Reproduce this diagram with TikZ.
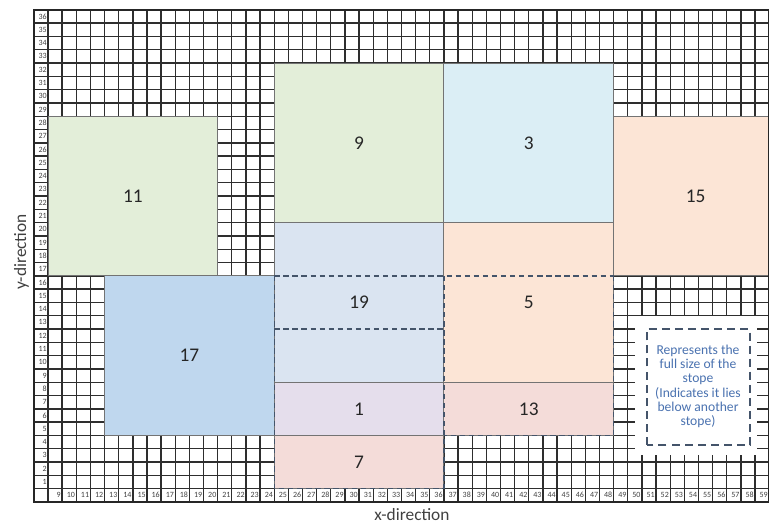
\documentclass[tikz,border=0pt]{standalone}
\usepackage{fontspec}
\setmainfont{Carlito}
\usepackage{tikz}
\definecolor{gridline}{HTML}{2E2E2E}
\definecolor{sgreen}{HTML}{E3EED9}
\definecolor{scyan}{HTML}{DBEEF5}
\definecolor{sorange}{HTML}{FCE5D6}
\definecolor{sblue}{HTML}{BFD7EE}
\definecolor{sgrey}{HTML}{DAE4F1}
\definecolor{spurple}{HTML}{E5DEEC}
\definecolor{spink}{HTML}{F4DCD9}
\definecolor{sdash}{HTML}{44546A}
\definecolor{legtext}{HTML}{4A72B0}
\tikzset{
  stope/.style={draw=black!55, line width=0.7pt},
  stopenum/.style={font=\fontsize{14.5}{17}\selectfont, text=black!85},
  hidden/.style={draw=sdash, line width=1.1pt, dash pattern=on 4pt off 2.8pt},
  gridlab/.style={font=\fontsize{6}{7}\selectfont, text=black!75, inner sep=0.5pt},
  axislab/.style={font=\fontsize{13}{15}\selectfont, text=black!75},
}

\begin{document}
\begin{tikzpicture}[x=10.605pt, y=9.975pt]
\useasboundingbox (4.605,-2.654) rectangle (58.99,36.74);
\foreach \c in {7,...,59} \draw[gridline, line width=1pt] (\c,-1) -- (\c,36);
\foreach \r in {-1,...,36} \draw[gridline, line width=1pt] (7,\r) -- (59,\r);
\foreach \c in {9,...,59} \node[gridlab, anchor=east] (xl\c) at (\c-0.03,-0.5) {\c};
\foreach \r in {1,...,36} \node[gridlab, anchor=east] (yl\r) at (7.97,\r-0.5) {\r};
\filldraw[stope, fill=sgreen] (8,16) rectangle (20,28);
\filldraw[stope, fill=sgreen] (24,20) rectangle (36,32);
\filldraw[stope, fill=scyan] (36,20) rectangle (48,32);
\filldraw[stope, fill=sorange] (48,16) rectangle (59.5,28);
\filldraw[stope, fill=sblue] (12,4) rectangle (24,16);
\filldraw[stope, fill=sgrey] (24,8) rectangle (36,20);
\filldraw[stope, fill=sorange] (36,8) rectangle (48,20);
\filldraw[stope, fill=spurple] (24,4) rectangle (36,8);
\filldraw[stope, fill=spink] (36,4) rectangle (48,8);
\filldraw[stope, fill=spink] (24,0) rectangle (36,4);
\draw[black!85, line width=1.6pt] (7,-1) rectangle (59,36);
\draw[hidden] (24,16) -- (48,16);
\draw[hidden] (24,12) -- (36,12);
\draw[hidden] (24,16) -- (24,0) -- (36,0);
\draw[hidden] (36,16) -- (36,0);
\draw[hidden] (48,16) -- (48,4) -- (36,4);
\node[stopenum] (s11) at (14,22) {11};
\node[stopenum] (s9) at (30,26) {9};
\node[stopenum] (s3) at (42,26) {3};
\node[stopenum] (s15) at (53.8,22) {15};
\node[stopenum] (s17) at (18,10) {17};
\node[stopenum] (s19) at (30,14) {19};
\node[stopenum] (s5) at (42,14) {5};
\node[stopenum] (s1) at (30,6) {1};
\node[stopenum] (s13) at (42,6) {13};
\node[stopenum] (s7) at (30,2) {7};
\fill[white] (49.5,2.5) rectangle (58.15,12.95);
\draw[hidden, line width=1.4pt, dash pattern=on 6pt off 3.8pt] (50.34,3.29) rectangle (57.65,11.98);
\node[font=\fontsize{10.2}{10.7}\selectfont, text=legtext, align=center] (legend) at (53.97,7.68)
  {Represents the\\full size of the\\stope\\(Indicates it lies\\below another\\stope)};
\node[axislab] (xdir) at (33.74,-1.95) {x-direction};
\node[axislab, rotate=90] (ydir) at (6.13,17.8) {y-direction};
\end{tikzpicture}
\end{document}
